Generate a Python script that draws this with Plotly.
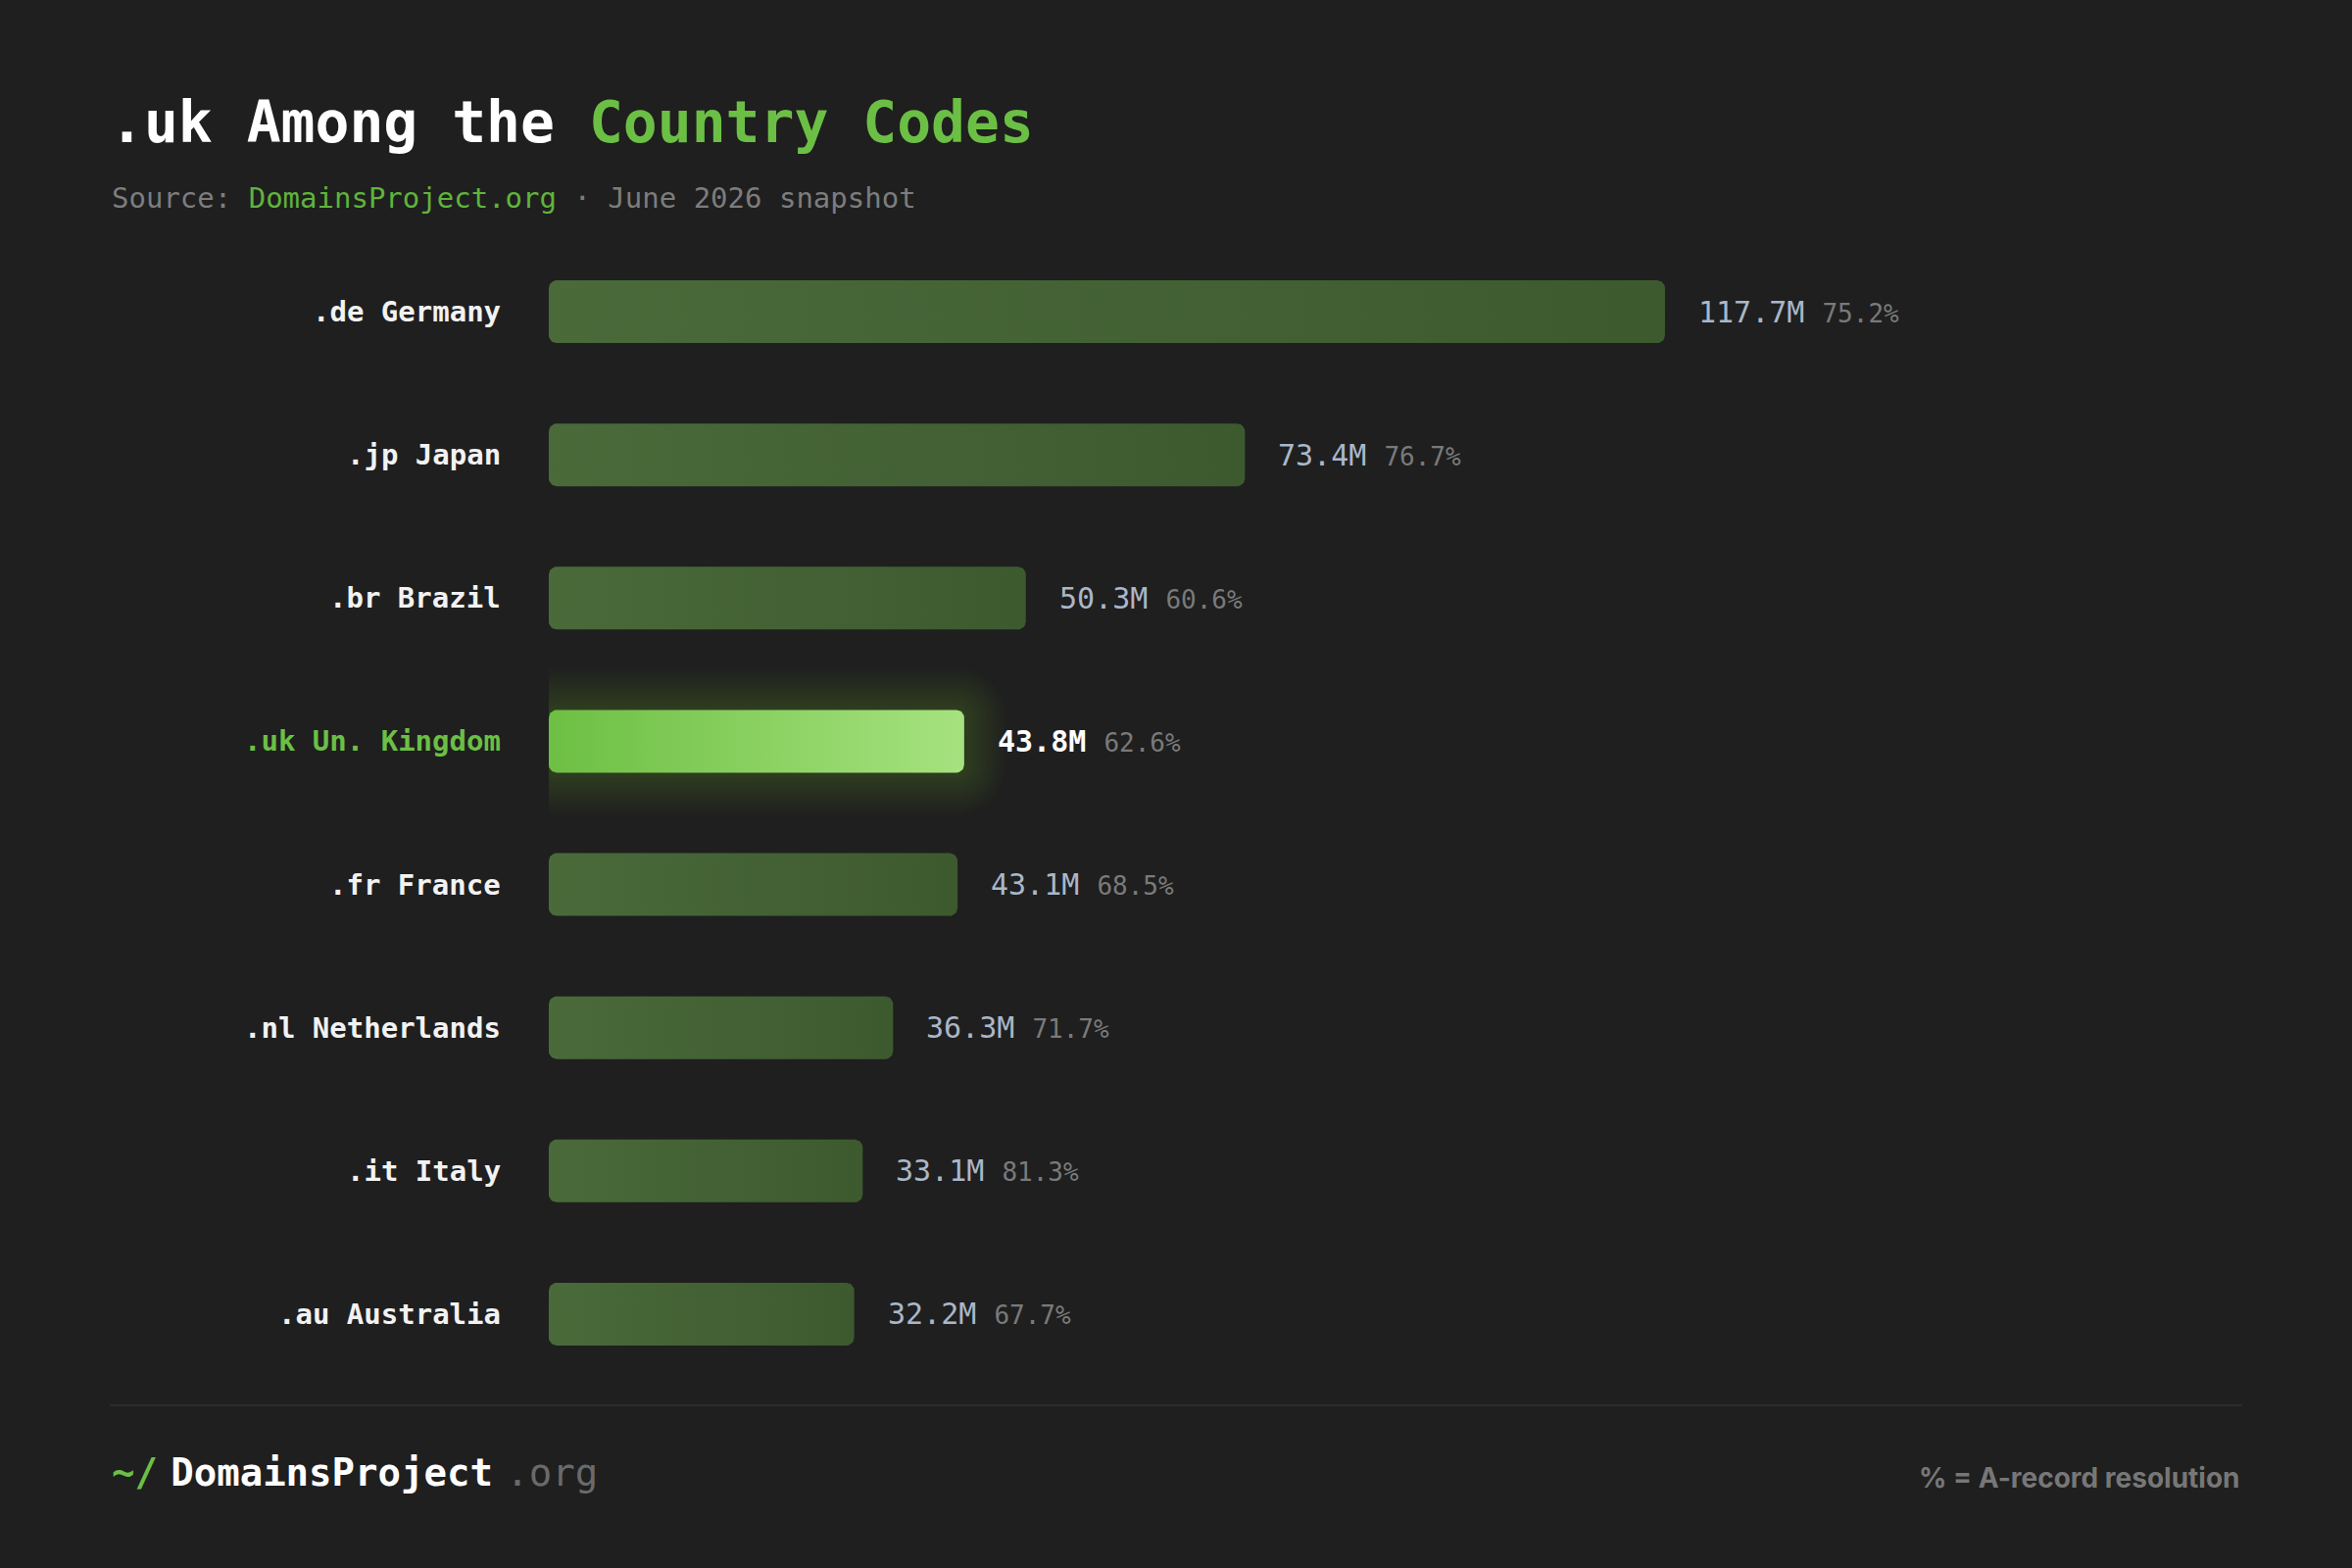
import numpy as np
import plotly.graph_objects as go

tlds = [".de", ".jp", ".br", ".uk", ".fr", ".nl", ".it", ".au"]
countries = ["Germany", "Japan", "Brazil", "Un. Kingdom", "France",
             "Netherlands", "Italy", "Australia"]
domains_m = [117.7, 73.4, 50.3, 43.8, 43.1, 36.3, 33.1, 32.2]
a_record_pct = [75.2, 76.7, 60.6, 62.6, 68.5, 71.7, 81.3, 67.7]
highlight = ".uk"

W, H = 2400, 1600
ML, MR, MT, MB = 560, 100, 245, 186
plot_w = W - ML - MR
plot_h = H - MT - MB
x_max = plot_w / 9.677          # ~9.7 px per million domains
y_px = plot_h / len(tlds)

BG = "#1f1f1f"
GREEN = "#6cbf45"
MONO = "DejaVu Sans Mono"


def px_x(p):
    return (p - ML) / plot_w


def px_y(p):
    return 1 - (p - MT) / plot_h


def rounded_bar(v, yc, half_px=32, r_px=8, grow=0, n=10):
    # rounded rectangle from 0 to v, in data units
    sx = x_max / plot_w
    sy = 1 / y_px
    x0, x1 = -grow * sx, v + grow * sx
    hh = (half_px + grow) * sy
    rx, ry = (r_px + grow) * sx, (r_px + grow) * sy
    corners = [(x1 - rx, yc - hh + ry, -90, 0), (x1 - rx, yc + hh - ry, 0, 90),
               (x0 + rx, yc + hh - ry, 90, 180), (x0 + rx, yc - hh + ry, 180, 270)]
    xs, ys = [], []
    for cx, cy, a0, a1 in corners:
        t = np.radians(np.linspace(a0, a1, n))
        xs += list(cx + rx * np.cos(t))
        ys += list(cy + ry * np.sin(t))
    return xs + xs[:1], ys + ys[:1]


fig = go.Figure()

for i, (tld, v) in enumerate(zip(tlds, domains_m)):
    if tld == highlight:
        # soft glow behind the highlighted bar
        for g in range(44, 0, -3):
            gx, gy = rounded_bar(v, i, grow=g)
            fig.add_trace(go.Scatter(x=gx, y=gy, fill="toself", mode="lines",
                                     line=dict(width=0), fillcolor="rgba(110,190,70,0.015)",
                                     hoverinfo="skip", showlegend=False))
        cs = [[0, "#6dbf43"], [1, "#a6e27f"]]
    else:
        cs = [[0, "#4a6a3a"], [1, "#3d5a2f"]]
    bx, by = rounded_bar(v, i)
    fig.add_trace(go.Scatter(x=bx, y=by, fill="toself", mode="lines",
                             line=dict(width=0),
                             fillgradient=dict(type="horizontal", colorscale=cs),
                             hoverinfo="skip", showlegend=False))

# category labels and values
for i, (tld, c, v, p) in enumerate(zip(tlds, countries, domains_m, a_record_pct)):
    hl = tld == highlight
    fig.add_annotation(x=0, y=i, xref="x", yref="y", xanchor="right", yanchor="middle",
                       xshift=-47, showarrow=False, text=f"<b>{tld} {c}</b>",
                       font=dict(family=MONO, size=29, color=GREEN if hl else "#f2f2f2"))
    val = f"<b>{v}M</b>" if hl else f"{v}M"
    fig.add_annotation(x=v, y=i, xref="x", yref="y", xanchor="left", yanchor="middle",
                       xshift=32, showarrow=False,
                       text=f"{val} <span style='font-size:26px;color:#7a7a7a'>{p}%</span>",
                       font=dict(family=MONO, size=30, color="#ffffff" if hl else "#aab7c8"))

# title block
fig.add_annotation(x=px_x(110), y=px_y(125), xref="paper", yref="paper",
                   xanchor="left", yanchor="middle", showarrow=False,
                   text=f"<b>.uk Among the <span style='color:{GREEN}'>Country Codes</span></b>",
                   font=dict(family=MONO, size=58, color="#ffffff"))
fig.add_annotation(x=px_x(112), y=px_y(202), xref="paper", yref="paper",
                   xanchor="left", yanchor="middle", showarrow=False,
                   text="Source: <span style='color:#5fb43c'>DomainsProject.org</span> · June 2026 snapshot",
                   font=dict(family=MONO, size=29, color="#7d7d7d"))

# footer
fig.add_shape(type="line", xref="paper", yref="paper",
              x0=px_x(112), x1=px_x(2288), y0=px_y(1434), y1=px_y(1434),
              line=dict(color="#2c2c2c", width=2))
fig.add_annotation(x=px_x(112), y=px_y(1502), xref="paper", yref="paper",
                   xanchor="left", yanchor="middle", showarrow=False,
                   text=f"<b><span style='color:{GREEN}'>~/</span><span style='font-size:22px'> </span>"
                        "DomainsProject</b><span style='font-size:22px'> </span>"
                        "<span style='color:#6a6a6a'>.org</span>",
                   font=dict(family=MONO, size=39, color="#ffffff"))
fig.add_annotation(x=px_x(2288), y=px_y(1508), xref="paper", yref="paper",
                   xanchor="right", yanchor="middle", showarrow=False,
                   text="<b>% = A-record resolution</b>",
                   font=dict(family="Inter", size=28, color="#777777"))

fig.update_xaxes(range=[0, x_max], visible=False, fixedrange=True)
fig.update_yaxes(range=[len(tlds) - 0.5, -0.5], visible=False, fixedrange=True)
fig.update_layout(width=W, height=H, margin=dict(l=ML, r=MR, t=MT, b=MB),
                  paper_bgcolor=BG, plot_bgcolor=BG, showlegend=False)

fig.write_html("out.html", config={"displayModeBar": False},
               post_script="document.body.style.margin='0';")
